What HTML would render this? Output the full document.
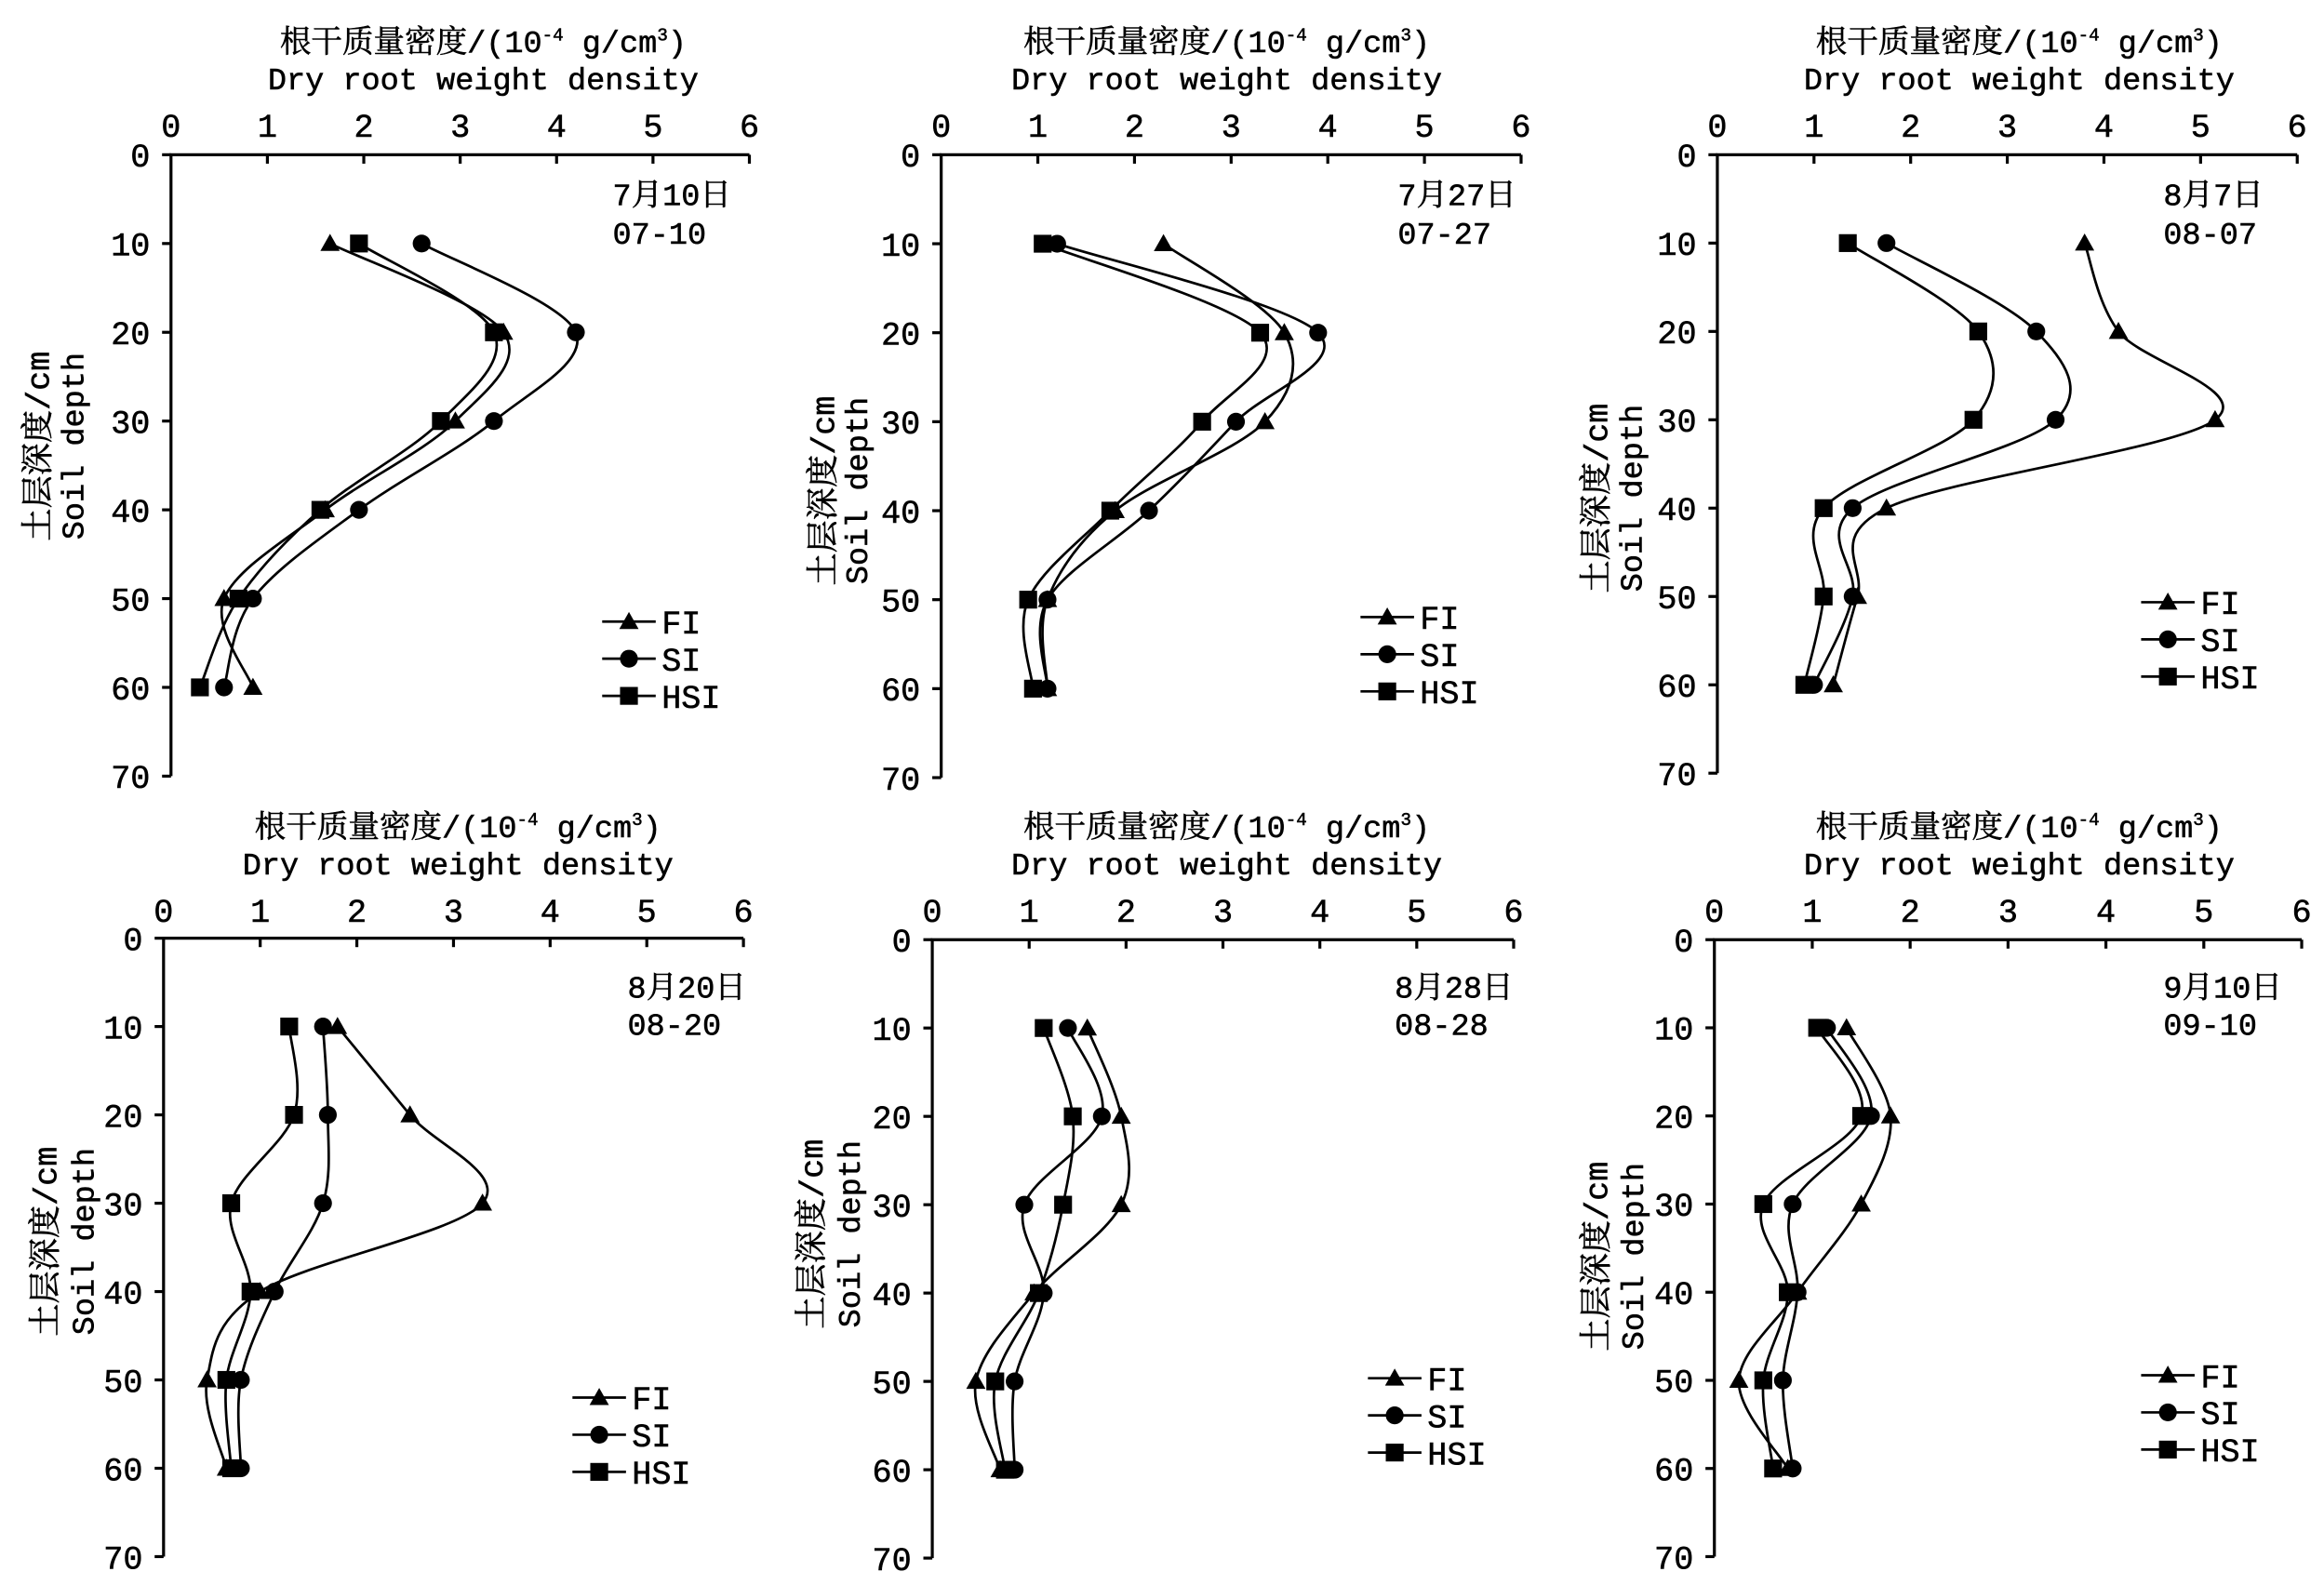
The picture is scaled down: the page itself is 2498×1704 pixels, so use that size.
<!DOCTYPE html>
<html><head><meta charset="utf-8">
<style>
html,body{margin:0;padding:0;background:#fff;}
svg{display:block;}
text{font-family:"Liberation Mono","Noto Serif CJK SC",monospace;fill:#000;stroke:#000;stroke-width:0.35;}
</style></head>
<body>
<svg id="s" xmlns="http://www.w3.org/2000/svg" width="2498" height="1704" viewBox="0 0 1563 1066"></svg>
<script>
var P=[
{x0:115,x6:504,y0:104,y70:522,tc:325,ty:27,tk:84,yl:[25,48,300],dl:[412,130,156,'7月10日','07-10'],lg:[405,418],
d:{FI:[1.65,3.45,2.95,1.6,0.55,0.85],SI:[2.6,4.2,3.35,1.95,0.85,0.55],HSI:[1.95,3.35,2.8,1.55,0.7,0.3]}},
{x0:633,x6:1023,y0:104,y70:523,tc:825,ty:27,tk:84,yl:[553,575,330],dl:[940,130,156,'7月27日','07-27'],lg:[915,415],
d:{FI:[2.3,3.55,3.35,1.8,1.1,1.1],SI:[1.2,3.9,3.05,2.15,1.1,1.1],HSI:[1.05,3.3,2.7,1.75,0.9,0.95]}},
{x0:1155,x6:1545,y0:104,y70:520,tc:1358,ty:27,tk:84,yl:[1073,1096,335],dl:[1455,130,156,'8月7日','08-07'],lg:[1440,405],
d:{FI:[3.8,4.15,5.15,1.75,1.45,1.2],SI:[1.75,3.3,3.5,1.4,1.4,1.0],HSI:[1.35,2.7,2.65,1.1,1.1,0.9]}},
{x0:110,x6:500,y0:631,y70:1047,tc:308,ty:555,tk:612,yl:[30,55,835],dl:[422,663,688,'8月20日','08-20'],lg:[385,940],
d:{FI:[1.8,2.55,3.3,1.0,0.45,0.65],SI:[1.65,1.7,1.65,1.15,0.8,0.8],HSI:[1.3,1.35,0.7,0.9,0.65,0.7]}},
{x0:627,x6:1018,y0:632,y70:1048,tc:825,ty:555,tk:612,yl:[545,570,830],dl:[938,663,688,'8月28日','08-28'],lg:[920,927],
d:{FI:[1.6,1.95,1.95,1.05,0.45,0.7],SI:[1.4,1.75,0.95,1.15,0.85,0.85],HSI:[1.15,1.45,1.35,1.1,0.65,0.75]}},
{x0:1153,x6:1548,y0:632,y70:1047,tc:1358,ty:555,tk:612,yl:[1073,1097,845],dl:[1455,663,688,'9月10日','09-10'],lg:[1440,925],
d:{FI:[1.35,1.8,1.5,0.85,0.25,0.75],SI:[1.15,1.6,0.8,0.85,0.7,0.8],HSI:[1.05,1.5,0.5,0.75,0.5,0.6]}}
];
var h='';
function mk(t,x,y){
 if(t=='FI')return '<polygon points="'+x+','+(y-6.5)+' '+(x-6.5)+','+(y+5)+' '+(x+6.5)+','+(y+5)+'"/>';
 if(t=='SI')return '<circle cx="'+x+'" cy="'+y+'" r="6"/>';
 return '<rect x="'+(x-6)+'" y="'+(y-6)+'" width="12" height="12"/>';
}
P.forEach(function(p){
 var sx=function(v){return p.x0+(p.x6-p.x0)*v/6;},sy=function(d){return p.y0+(p.y70-p.y0)*d/70;};
 h+='<text x="'+p.tc+'" y="'+(p.ty+8)+'" font-size="21" text-anchor="middle">根干质量密度/(10<tspan font-size="12" dy="-8">-4</tspan><tspan dy="8"> g/cm</tspan><tspan font-size="12" dy="-8">3</tspan><tspan dy="8">)</tspan></text>';
 h+='<text x="'+p.tc+'" y="'+(p.ty+33)+'" font-size="21" text-anchor="middle">Dry root weight density</text>';
 h+='<g stroke="#000" stroke-width="2" fill="none"><path d="M'+p.x0+','+p.y70+'V'+p.y0+'H'+p.x6+'"/>';
 for(var i=1;i<=6;i++)h+='<path d="M'+sx(i)+','+p.y0+'v6"/>';
 for(var j=0;j<=7;j++)h+='<path d="M'+p.x0+','+sy(j*10)+'h-6"/>';
 h+='</g>';
 for(var i=0;i<=6;i++)h+='<text x="'+sx(i)+'" y="'+(p.tk+8)+'" font-size="22" text-anchor="middle">'+i+'</text>';
 for(var j=0;j<=7;j++)h+='<text x="'+(p.x0-14)+'" y="'+(sy(j*10)+8)+'" font-size="22" text-anchor="end">'+(j*10)+'</text>';
 h+='<text transform="translate('+(p.yl[0]+8)+','+p.yl[2]+') rotate(-90)" font-size="22" text-anchor="middle">土层深度/cm</text>';
 h+='<text transform="translate('+(p.yl[1]+8)+','+p.yl[2]+') rotate(-90)" font-size="21" text-anchor="middle">Soil depth</text>';
 h+='<text x="'+p.dl[0]+'" y="'+(p.dl[1]+8)+'" font-size="21">'+p.dl[3]+'</text>';
 h+='<text x="'+p.dl[0]+'" y="'+(p.dl[2]+8)+'" font-size="21">'+p.dl[4]+'</text>';
 ['FI','SI','HSI'].forEach(function(k,ki){
  var v=p.d[k],pts=v.map(function(a,i){return[sx(a),sy(10*(i+1))];});
  var d='M'+pts[0][0]+','+pts[0][1];
  for(var i=0;i<pts.length-1;i++){
   var p0=pts[i-1]||pts[i],p1=pts[i],p2=pts[i+1],p3=pts[i+2]||p2;
   d+='C'+(p1[0]+(p2[0]-p0[0])/6)+','+(p1[1]+(p2[1]-p0[1])/6)+' '+(p2[0]-(p3[0]-p1[0])/6)+','+(p2[1]-(p3[1]-p1[1])/6)+' '+p2[0]+','+p2[1];
  }
  h+='<path d="'+d+'" stroke="#000" stroke-width="1.7" fill="none"/>';
  pts.forEach(function(q){h+=mk(k,q[0],q[1]);});
  var ly=p.lg[1]+ki*25;
  h+='<path d="M'+p.lg[0]+','+ly+'h36" stroke="#000" stroke-width="1.7"/>'+mk(k,p.lg[0]+18,ly);
  h+='<text x="'+(p.lg[0]+40)+'" y="'+(ly+8)+'" font-size="22">'+k+'</text>';
 });
});
document.getElementById('s').innerHTML=h;
</script>
</body></html>
